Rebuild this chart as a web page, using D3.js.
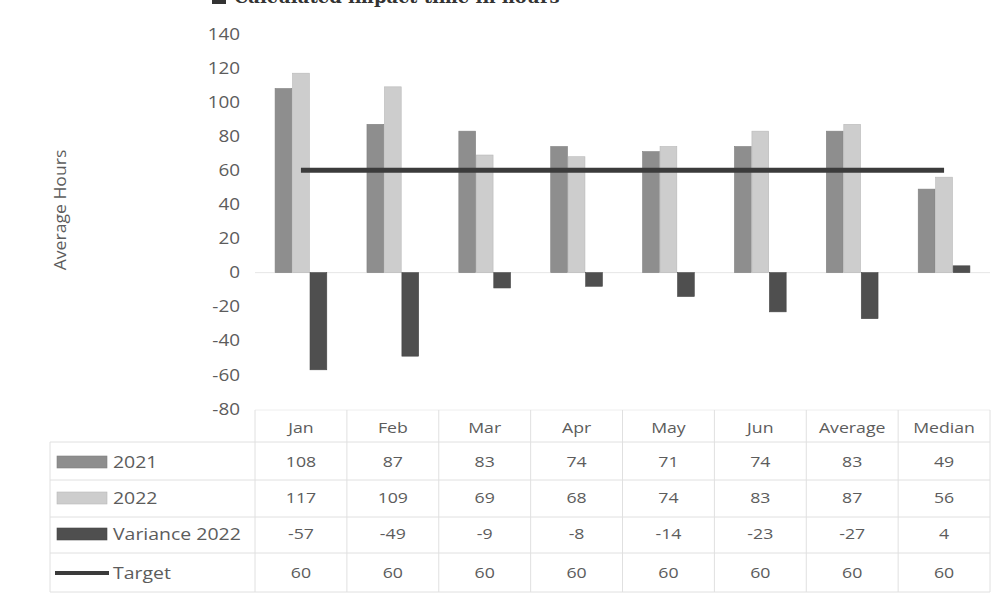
<!DOCTYPE html>
<html>
<head>
<meta charset="utf-8">
<script src="https://cdn.jsdelivr.net/npm/d3@7"></script>
<style>
  html, body { margin: 0; padding: 0; background: #fff; }
  svg { display: block; }
  text { font-family: "Open Sans", Lato, "Liberation Sans", sans-serif; }
</style>
</head>
<body>
<svg id="chart" width="1001" height="599"></svg>
<script>
// Monthly hours per period, with summary columns
const categories = ["Jan", "Feb", "Mar", "Apr", "May", "Jun", "Average", "Median"];
const hours2021 = [108, 87, 83, 74, 71, 74, 83, 49];
const hours2022 = [117, 109, 69, 68, 74, 83, 87, 56];
const variance2022 = [-57, -49, -9, -8, -14, -23, -27, 4];
const target = [60, 60, 60, 60, 60, 60, 60, 60];
const yTicks = [-80, -60, -40, -20, 0, 20, 40, 60, 80, 100, 120, 140];

const seriesNames = ["2021", "2022", "Variance 2022"];
const seriesValues = [hours2021, hours2022, variance2022];
const seriesColors = ["#8e8e8e", "#cdcdcd", "#4f4f4f"];
const targetColor = "#3b3b3b";
const textColor = "#5c5c5c";
const stretch = 1.18; // wide letterforms

const svg = d3.select("#chart");

const x = d3.scaleBand().domain(categories).range([255, 990]);
const inner = d3.scaleBand().domain(seriesNames)
  .range([0, x.bandwidth()]).paddingInner(0.04).paddingOuter(1.15);
const y = d3.scaleLinear().domain([-80, 140]).range([409, 34]);

// places a horizontally widened label at (cx, cy)
function label(g, cx, cy, str, anchor, size) {
  return g.append("text")
    .attr("transform", `translate(${cx},${cy}) scale(${stretch},1)`)
    .attr("dy", "0.35em")
    .attr("text-anchor", anchor)
    .style("font-size", size + "px")
    .attr("fill", textColor)
    .text(str);
}

// Title line (runs off the top edge)
svg.append("rect").attr("x", 212).attr("y", -10).attr("width", 14).attr("height", 14).attr("fill", "#333");
svg.append("text").attr("x", 234).attr("y", 3)
  .style("font-family", "'DejaVu Serif', serif").style("font-weight", "bold")
  .style("font-size", "18px").attr("fill", "#333")
  .text("Calculated impact time in hours");

// Y axis (labels only)
const yAxis = d3.axisLeft(y).tickValues(yTicks).tickSize(0).tickPadding(0)
  .tickFormat(d => d < 0 ? "-" + Math.abs(d) : d);
const gy = svg.append("g").attr("transform", "translate(240,0)").call(yAxis);
gy.select(".domain").remove();
gy.selectAll("text")
  .attr("transform", `scale(${stretch},1)`)
  .style("font-size", "16px").attr("fill", textColor)
  .style("font-family", "'Open Sans', sans-serif");

svg.append("text")
  .attr("transform", "translate(66,210) rotate(-90) scale(1.1,1)")
  .attr("text-anchor", "middle")
  .style("font-size", "16px").attr("fill", textColor)
  .text("Average Hours");

// Zero baseline
svg.append("line")
  .attr("x1", x.range()[0]).attr("x2", x.range()[1])
  .attr("y1", y(0)).attr("y2", y(0))
  .attr("stroke", "#e6e6e6").attr("stroke-width", 1);

// Bars
seriesNames.forEach((name, si) => {
  svg.append("g").selectAll("rect")
    .data(seriesValues[si])
    .join("rect")
    .attr("x", (d, i) => x(categories[i]) + inner(name))
    .attr("width", inner.bandwidth())
    .attr("y", d => y(Math.max(0, d)))
    .attr("height", d => Math.abs(y(d) - y(0)))
    .attr("fill", seriesColors[si])
    .attr("stroke", d3.color(seriesColors[si]).darker(0.3))
    .attr("stroke-width", 0.6);
});

// Target line
const line = d3.line()
  .x((d, i) => x(categories[i]) + x.bandwidth() / 2)
  .y(d => y(d));
svg.append("path").datum(target)
  .attr("d", line)
  .attr("fill", "none")
  .attr("stroke", targetColor)
  .attr("stroke-width", 5);

// Data table
const tableLeft = 50;
const rowY = [428, 462, 498, 534, 573];
const rowLines = [442, 480, 517, 553, 592];
const gridColor = "#e0e0e0";
const tbl = svg.append("g");

tbl.append("line").attr("x1", x.range()[0]).attr("x2", x.range()[1])
  .attr("y1", 410).attr("y2", 410).attr("stroke", "#eeeeee");
rowLines.forEach(ly => {
  tbl.append("line").attr("x1", tableLeft).attr("x2", x.range()[1])
    .attr("y1", ly).attr("y2", ly).attr("stroke", gridColor);
});
categories.forEach(c => {
  tbl.append("line").attr("x1", x(c)).attr("x2", x(c))
    .attr("y1", 410).attr("y2", 592).attr("stroke", gridColor);
});
tbl.append("line").attr("x1", x.range()[1]).attr("x2", x.range()[1])
  .attr("y1", 410).attr("y2", 592).attr("stroke", gridColor);
tbl.append("line").attr("x1", tableLeft).attr("x2", tableLeft)
  .attr("y1", 442).attr("y2", 592).attr("stroke", gridColor);

// Header row
categories.forEach(c => label(tbl, x(c) + x.bandwidth() / 2, rowY[0], c, "middle", 15));

// Series rows with legend keys
const rows = [
  { name: "2021", values: hours2021, color: seriesColors[0], kind: "bar" },
  { name: "2022", values: hours2022, color: seriesColors[1], kind: "bar" },
  { name: "Variance 2022", values: variance2022, color: seriesColors[2], kind: "bar" },
  { name: "Target", values: target, color: targetColor, kind: "line" }
];
rows.forEach((r, ri) => {
  const cy = rowY[ri + 1];
  if (r.kind === "bar") {
    tbl.append("rect").attr("x", 57).attr("y", cy - 6).attr("width", 50).attr("height", 12)
      .attr("fill", r.color).attr("stroke", d3.color(r.color).darker(0.3)).attr("stroke-width", 0.6);
  } else {
    tbl.append("line").attr("x1", 55).attr("x2", 109).attr("y1", cy).attr("y2", cy)
      .attr("stroke", r.color).attr("stroke-width", 4);
  }
  label(tbl, 113, cy, r.name, "start", 16.5);
  r.values.forEach((v, i) => {
    label(tbl, x(categories[i]) + x.bandwidth() / 2, cy, v < 0 ? "-" + Math.abs(v) : String(v), "middle", 15);
  });
});
</script>
</body>
</html>
